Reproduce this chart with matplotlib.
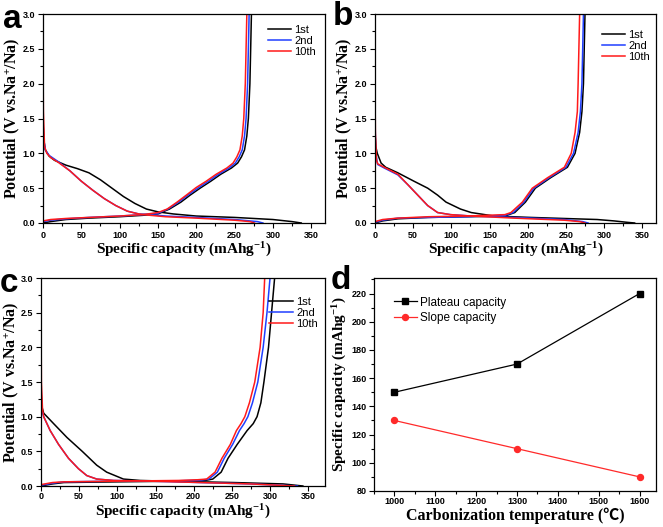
import matplotlib
matplotlib.use("Agg")
import matplotlib.pyplot as plt
from matplotlib.ticker import MultipleLocator

plt.rcParams['font.family'] = ['Liberation Sans', 'DejaVu Sans']
plt.rcParams['mathtext.fontset'] = 'custom'
plt.rcParams['mathtext.rm'] = 'Liberation Serif:bold'
plt.rcParams['mathtext.bf'] = 'Liberation Serif:bold'
plt.rcParams['mathtext.it'] = 'Liberation Serif:bold'

# ---- data: (capacity mAh/g, potential V) ----
# panel a
a_dis_1st = [(0, 1.45), (1, 1.2), (3, 1.05), (8, 0.96), (15, 0.9), (30, 0.83), (45, 0.78),
             (60, 0.72), (75, 0.62), (90, 0.5), (105, 0.38), (120, 0.28), (135, 0.2),
             (150, 0.16), (170, 0.13), (200, 0.1), (250, 0.08), (300, 0.05), (325, 0.02), (337, 0.0)]
a_dis_2nd = [(0, 1.5), (1, 1.2), (3, 1.05), (8, 0.97), (20, 0.88), (35, 0.75), (50, 0.6),
             (65, 0.47), (80, 0.35), (95, 0.25), (110, 0.17), (125, 0.13), (140, 0.12),
             (160, 0.1), (200, 0.08), (250, 0.05), (280, 0.02), (287, 0.0)]
a_dis_10th = [(0, 2.4), (0.5, 1.6), (2, 1.1), (5, 1.0), (10, 0.94), (20, 0.87), (35, 0.75),
              (50, 0.6), (65, 0.47), (80, 0.35), (95, 0.25), (110, 0.17), (125, 0.13),
              (140, 0.11), (160, 0.09), (200, 0.07), (250, 0.04), (270, 0.02), (276, 0.0)]
a_chg_1st = [(0, 0.0), (10, 0.02), (30, 0.05), (60, 0.07), (100, 0.09), (130, 0.11), (150, 0.13),
             (165, 0.2), (180, 0.3), (192, 0.4), (205, 0.5), (219, 0.6), (232, 0.7), (246, 0.79),
             (254, 0.86), (259, 0.95), (263, 1.05), (266, 1.25), (268, 1.5), (270, 2.0),
             (271, 2.5), (272, 3.0)]
a_chg_2nd = [(0, 0.02), (10, 0.04), (30, 0.06), (60, 0.08), (100, 0.1), (130, 0.12), (150, 0.14),
             (163, 0.2), (177, 0.3), (189, 0.4), (202, 0.5), (216, 0.6), (229, 0.7), (243, 0.79),
             (251, 0.86), (256, 0.95), (260, 1.05), (263, 1.25), (265, 1.5), (267, 2.0),
             (268, 2.5), (269, 3.0)]
a_chg_10th = [(0, 0.03), (10, 0.05), (30, 0.065), (60, 0.08), (100, 0.1), (130, 0.12), (150, 0.15),
              (162, 0.2), (175, 0.3), (187, 0.4), (200, 0.51), (213, 0.6), (226, 0.7), (240, 0.79),
              (248, 0.86), (253, 0.95), (257, 1.05), (260, 1.25), (262, 1.5), (264, 2.0),
              (265, 2.5), (266, 3.0)]

# panel b
b_dis_1st = [(0, 1.3), (1, 1.1), (3, 1.0), (8, 0.86), (14, 0.8), (30, 0.72), (51, 0.6), (69, 0.5),
             (82, 0.4), (93, 0.3), (112, 0.2), (126, 0.15), (156, 0.1), (204, 0.08), (291, 0.05),
             (313, 0.03), (330, 0.01), (340, 0.0)]
b_dis_2nd = [(0, 1.5), (1, 1.0), (3.5, 0.84), (12, 0.79), (30, 0.69), (43, 0.55), (56, 0.4),
             (69, 0.25), (82, 0.15), (99, 0.12), (126, 0.1), (182, 0.08), (248, 0.05), (272, 0.02),
             (279, 0.0)]
b_dis_10th = [(0, 2.0), (0.5, 1.3), (2, 0.9), (3.5, 0.85), (12, 0.8), (30, 0.7), (43, 0.55),
              (56, 0.4), (69, 0.25), (82, 0.15), (99, 0.12), (126, 0.1), (182, 0.07), (248, 0.04),
              (268, 0.02), (275, 0.0)]
b_chg_1st = [(0, 0.0), (10, 0.03), (30, 0.06), (70, 0.08), (120, 0.09), (170, 0.1), (183, 0.15),
             (197, 0.3), (210, 0.5), (230, 0.65), (252, 0.8), (262, 1.0), (268, 1.3), (271, 1.6),
             (273, 2.0), (274, 2.5), (275, 3.0)]
b_chg_2nd = [(0, 0.01), (10, 0.04), (30, 0.07), (70, 0.08), (120, 0.09), (170, 0.11), (181, 0.15),
             (195, 0.3), (208, 0.5), (228, 0.65), (250, 0.8), (260, 1.0), (266, 1.3), (269, 1.6),
             (271, 2.0), (272, 2.5), (273, 3.0)]
b_chg_10th = [(0, 0.02), (10, 0.05), (30, 0.07), (70, 0.09), (120, 0.1), (170, 0.12), (178, 0.15),
              (193, 0.3), (206, 0.5), (226, 0.65), (248, 0.8), (257, 1.0), (262, 1.3), (265, 1.6),
              (266, 2.0), (267, 2.5), (268, 3.0)]

# panel c
c_dis_1st = [(0, 1.4), (1, 1.15), (3.5, 1.05), (16.5, 0.9), (34, 0.7), (54, 0.5), (73, 0.3),
             (86, 0.2), (108, 0.1), (130, 0.08), (165, 0.07), (252, 0.05), (317, 0.03), (343, 0.0)]
c_dis_2nd = [(0, 1.5), (1, 1.1), (3.5, 1.0), (12, 0.8), (23, 0.6), (36, 0.4), (49, 0.25),
             (60, 0.15), (73, 0.1), (95, 0.08), (143, 0.07), (208, 0.05), (274, 0.03), (336, 0.0)]
c_dis_10th = [(0, 2.5), (0.5, 1.5), (2, 1.1), (3.5, 1.0), (12, 0.8), (23, 0.6), (36, 0.4),
              (49, 0.25), (60, 0.15), (73, 0.1), (95, 0.08), (143, 0.07), (208, 0.05), (274, 0.03),
              (332, 0.0)]
c_chg_1st = [(0, 0.0), (15, 0.03), (30, 0.05), (100, 0.06), (180, 0.07), (215, 0.08), (225, 0.1),
             (236, 0.2), (245, 0.4), (257, 0.6), (270, 0.8), (278, 0.9), (283, 1.0), (288, 1.2),
             (292, 1.5), (298, 2.0), (302, 2.5), (306, 3.0)]
c_chg_2nd = [(0, 0.01), (15, 0.04), (30, 0.06), (100, 0.07), (180, 0.075), (210, 0.085),
             (220, 0.1), (231, 0.2), (240, 0.4), (251, 0.6), (260, 0.8), (266, 0.9), (271, 1.0),
             (277, 1.2), (284, 1.5), (291, 2.0), (296, 2.5), (300, 3.0)]
c_chg_10th = [(0, 0.02), (15, 0.05), (30, 0.06), (100, 0.07), (180, 0.08), (205, 0.09),
              (217, 0.1), (228, 0.2), (237, 0.4), (248, 0.6), (256, 0.8), (262, 0.9), (267, 1.0),
              (273, 1.2), (280, 1.5), (287, 2.0), (291, 2.5), (293, 3.0)]

# panel d
temps = [1000, 1300, 1600]
plateau_cap = [150, 170, 220]
slope_cap = [130, 110, 90]

cycle_labels = ['1st', '2nd', '10th']
cycle_colors = ['#000000', '#1f3fff', '#ff1a1a']

W, H = 663, 527
fig = plt.figure(figsize=(W / 100, H / 100), dpi=100)


def add_ax(left, top, right, bottom):
    return fig.add_axes([left / W, 1 - bottom / H, (right - left) / W, (bottom - top) / H])


def style_ax(ax):
    for s in ax.spines.values():
        s.set_linewidth(0.9)
    ax.tick_params(which='both', direction='out', top=False, right=False,
                   labelsize=6.5, width=0.8, pad=2)
    ax.tick_params(which='major', length=3.5)
    ax.tick_params(which='minor', length=2)
    for lab in ax.get_xticklabels() + ax.get_yticklabels():
        lab.set_fontweight('bold')


serif_bold = dict(family=['Liberation Serif', 'Noto Sans CJK SC'], fontweight='bold')


def gcd_panel(ax, curves, xmax, leg_anchor, xlab_y, ylab_x):
    for (dis, chg), lab, col in zip(curves, cycle_labels, cycle_colors):
        ax.plot([p[0] for p in dis], [p[1] for p in dis], color=col, lw=1.1, label=lab)
        ax.plot([p[0] for p in chg], [p[1] for p in chg], color=col, lw=1.1)
    ax.set_xlim(0, xmax)
    ax.set_ylim(0, 3.0)
    ax.xaxis.set_major_locator(MultipleLocator(50))
    ax.xaxis.set_minor_locator(MultipleLocator(25))
    ax.yaxis.set_major_locator(MultipleLocator(0.5))
    ax.yaxis.set_minor_locator(MultipleLocator(0.25))
    ax.set_xlabel('Specific capacity (mAhg$^{-1}$)', fontsize=11, **serif_bold)
    ax.set_ylabel('Potential (V vs.Na$^{+}$/Na)', fontsize=11.5, **serif_bold)
    ax.xaxis.set_label_coords(0.5, xlab_y)
    ax.yaxis.set_label_coords(ylab_x, 0.5)
    style_ax(ax)
    ax.legend(frameon=False, loc='upper right', bbox_to_anchor=leg_anchor, fontsize=8,
              handlelength=2.1, handletextpad=0.3, labelspacing=0.1, borderaxespad=0)


ax_a = add_ax(43, 14, 325, 223)
gcd_panel(ax_a, [(a_dis_1st, a_chg_1st), (a_dis_2nd, a_chg_2nd), (a_dis_10th, a_chg_10th)],
          368, (0.985, 0.97), -0.085, -0.075)
ax_b = add_ax(375, 14, 656, 223)
gcd_panel(ax_b, [(b_dis_1st, b_chg_1st), (b_dis_2nd, b_chg_2nd), (b_dis_10th, b_chg_10th)],
          368, (0.995, 0.945), -0.085, -0.075)
ax_c = add_ax(41, 278, 325, 486)
gcd_panel(ax_c, [(c_dis_1st, c_chg_1st), (c_dis_2nd, c_chg_2nd), (c_dis_10th, c_chg_10th)],
          372, (0.99, 0.93), -0.08, -0.07)
ax_c.tick_params(axis='x', which='major', pad=1)

ax_d = add_ax(374, 278, 656, 491)
ax_d.plot(temps, plateau_cap, color='black', lw=0.9, marker='s', ms=4, label='Plateau capacity')
ax_d.plot(temps, slope_cap, color='#ff2a2a', lw=0.9, marker='o', ms=4.3,
          markerfacecolor='#ff2a2a', label='Slope capacity')
ax_d.set_xlim(950, 1640)
ax_d.set_ylim(80, 231)
ax_d.xaxis.set_major_locator(MultipleLocator(100))
ax_d.xaxis.set_minor_locator(MultipleLocator(50))
ax_d.yaxis.set_major_locator(MultipleLocator(20))
ax_d.yaxis.set_minor_locator(MultipleLocator(10))
ax_d.set_xlabel('Carbonization temperature (\u2103)', fontsize=11.5, **serif_bold)
ax_d.set_ylabel('Specific capacity (mAhg$^{-1}$)', fontsize=11, **serif_bold)
ax_d.xaxis.set_label_coords(0.5, -0.08)
ax_d.yaxis.set_label_coords(-0.09, 0.5)
style_ax(ax_d)
ax_d.tick_params(axis='x', which='major', pad=1)
ax_d.legend(frameon=False, loc='upper left', bbox_to_anchor=(0.055, 0.935), fontsize=8.5,
            handlelength=1.9, handletextpad=0.3, labelspacing=0.3, borderaxespad=0)

# panel letters
for letter, (x, y) in zip('abcd', [(3, 28), (333, 25), (0, 292), (331, 289)]):
    fig.text(x / W, 1 - y / H, letter, fontsize=24, fontweight='bold',
             family='Liberation Sans', ha='left', va='baseline')

fig.savefig('out.png', dpi=100)
